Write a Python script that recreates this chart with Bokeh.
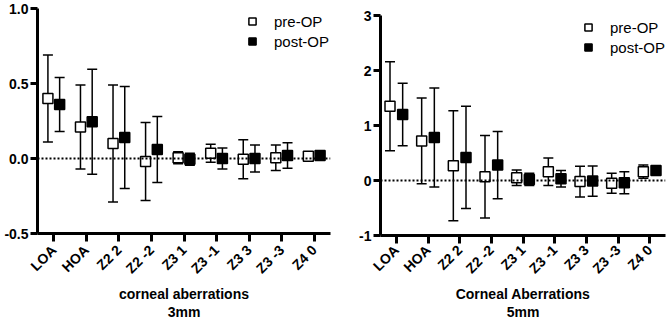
import math
from bokeh.plotting import figure
from bokeh.layouts import row
from bokeh.models import (ColumnDataSource, Range1d, FactorRange, FixedTicker, Whisker,
                          TeeHead, Span, Legend, LegendItem)
from bokeh.transform import dodge
from bokeh.embed import file_html
from bokeh.resources import INLINE

categories = ["LOA", "HOA", "Z2 2", "Z2 -2", "Z3 1", "Z3 -1", "Z3 3", "Z3 -3", "Z4 0"]

# 3 mm zone: mean and SD
pre_mean_3 = [0.40, 0.21, 0.10, -0.02, 0.005, 0.035, -0.005, 0.005, 0.015]
pre_sd_3 = [0.29, 0.28, 0.39, 0.26, 0.04, 0.06, 0.13, 0.085, 0.01]
post_mean_3 = [0.36, 0.245, 0.14, 0.06, -0.005, 0.0, 0.0, 0.02, 0.02]
post_sd_3 = [0.18, 0.35, 0.34, 0.22, 0.04, 0.07, 0.09, 0.085, 0.01]

# 5 mm zone: mean and SD
pre_mean_5 = [1.35, 0.72, 0.27, 0.07, 0.05, 0.16, -0.02, -0.05, 0.16]
pre_sd_5 = [0.81, 0.78, 1.00, 0.75, 0.14, 0.25, 0.28, 0.18, 0.12]
post_mean_5 = [1.20, 0.78, 0.42, 0.28, 0.02, 0.03, -0.01, -0.04, 0.18]
post_sd_5 = [0.57, 0.90, 0.93, 0.61, 0.11, 0.15, 0.275, 0.20, 0.07]

y_ticks_3 = [-0.5, 0.0, 0.5, 1.0]
y_labels_3 = ["-0.5", "0.0", "0.5", "1.0"]
y_ticks_5 = [-1, 0, 1, 2, 3]
y_labels_5 = ["-1", "0", "1", "2", "3"]

FONT = "Liberation Sans"


def panel(frame_w, frame_h, y_range, y_ticks, y_labels, pre_mean, pre_sd,
          post_mean, post_sd, title, borders, offset, legend_xy, label_gap):
    left, right, top = borders
    p = figure(frame_width=frame_w, frame_height=frame_h, title=None,
               x_range=FactorRange(*categories), y_range=Range1d(*y_range),
               output_backend="svg", toolbar_location=None,
               min_border_left=left, min_border_right=right,
               min_border_top=top, min_border_bottom=0)
    # each panel keeps its own frame position inside the row
    p.frame_align = False
    p.outline_line_color = None
    p.xgrid.visible = False
    p.ygrid.visible = False

    src = ColumnDataSource(dict(
        cat=categories,
        pre=pre_mean,
        pre_lo=[m - s for m, s in zip(pre_mean, pre_sd)],
        pre_hi=[m + s for m, s in zip(pre_mean, pre_sd)],
        post=post_mean,
        post_lo=[m - s for m, s in zip(post_mean, post_sd)],
        post_hi=[m + s for m, s in zip(post_mean, post_sd)],
    ))

    p.add_layout(Span(location=0, dimension="width", line_color="black",
                      line_width=2, line_dash="2 2"))

    for key, off in (("pre", -offset), ("post", offset)):
        w = Whisker(source=src, base=dodge("cat", off, range=p.x_range),
                    lower=key + "_lo", upper=key + "_hi", dimension="height",
                    line_color="black", line_width=1.5,
                    upper_head=TeeHead(size=10, line_color="black", line_width=1.5),
                    lower_head=TeeHead(size=10, line_color="black", line_width=1.5))
        p.add_layout(w)

    r_pre = p.scatter(x=dodge("cat", -offset, range=p.x_range), y="pre", source=src,
                      marker="square", size=10, fill_color="white",
                      line_color="black", line_width=1.5)
    r_post = p.scatter(x=dodge("cat", offset, range=p.x_range), y="post", source=src,
                       marker="square", size=10, fill_color="black",
                       line_color="black", line_width=1.5)

    legend = Legend(items=[LegendItem(label="pre-OP", renderers=[r_pre]),
                           LegendItem(label="post-OP", renderers=[r_post])],
                    location=legend_xy, glyph_width=18, glyph_height=20,
                    label_height=20, label_standoff=13, spacing=0, padding=0, margin=0,
                    background_fill_alpha=0, border_line_color=None,
                    label_text_font=FONT, label_text_font_size="15px",
                    label_text_color="black")
    p.add_layout(legend)

    for ax in (p.xaxis[0], p.yaxis[0]):
        ax.axis_line_width = 3
        ax.axis_line_color = "black"
        ax.major_tick_line_width = 3
        ax.major_tick_line_color = "black"
        ax.major_tick_out = 8
        ax.major_tick_in = 0
        ax.minor_tick_line_color = None
        ax.major_label_text_font = FONT
        ax.major_label_text_font_style = "bold"
        ax.major_label_text_color = "black"

    p.yaxis.ticker = FixedTicker(ticks=y_ticks)
    p.yaxis.major_label_overrides = {t: l for t, l in zip(y_ticks, y_labels)}
    p.yaxis.major_label_text_font_size = "14px"
    p.yaxis.major_tick_out = 7
    p.yaxis.major_label_standoff = 2

    p.xaxis.major_label_orientation = math.pi / 4
    p.xaxis.major_label_text_font_size = "14px"
    p.xaxis.major_label_standoff = label_gap
    p.xaxis.axis_label = title
    p.xaxis.axis_label_text_font = FONT
    p.xaxis.axis_label_text_font_style = "bold"
    p.xaxis.axis_label_text_font_size = "14px"
    p.xaxis.axis_label_text_line_height = 1.1
    p.xaxis.axis_label_text_color = "black"
    p.xaxis.axis_label_standoff = 1
    return p


p1 = panel(293, 225, (-0.5, 1.0), y_ticks_3, y_labels_3, pre_mean_3, pre_sd_3,
           post_mean_3, post_sd_3, "corneal aberrations\n3mm",
           (37, 5, 8), 0.18, (206, 182), 6)
p2 = panel(285, 220, (-1, 3), y_ticks_5, y_labels_5, pre_mean_5, pre_sd_5,
           post_mean_5, post_sd_5, "Corneal Aberrations\n5mm",
           (45, 4, 15), 0.2, (199, 178), 4)

layout = row(p1, p2)
open("out.html", "w").write(file_html(layout, INLINE))
